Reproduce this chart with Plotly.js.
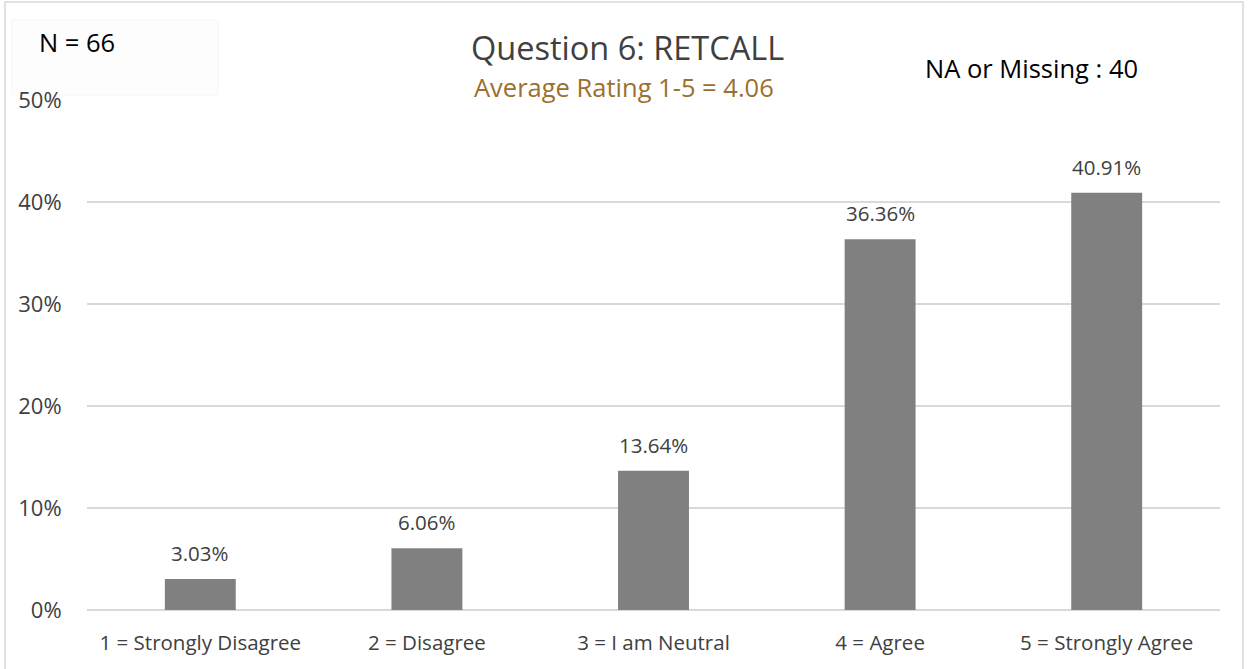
<!DOCTYPE html>
<html>
<head>
<meta charset="utf-8">
<script src="https://cdn.plot.ly/plotly-3.0.1.min.js"></script>
<style>
  html, body { margin: 0; padding: 0; background: #ffffff; }
  #chart { width: 1249px; height: 669px; }
</style>
</head>
<body>
<div id="chart"></div>
<script>
// Response categories and share of respondents (fraction of N)
const categories = [
  "1 = Strongly Disagree",
  "2 = Disagree",
  "3 = I am Neutral",
  "4 = Agree",
  "5 = Strongly Agree"
];
const shares = [0.0303, 0.0606, 0.1364, 0.3636, 0.4091];
const shareLabels = ["3.03%", "6.06%", "13.64%", "36.36%", "40.91%"];

const chartTitle = "Question 6: RETCALL";
const subtitle = "Average Rating 1-5 = 4.06";
const countNote = "N = 66";
const missingNote = "NA or Missing : 40";

const FONT = "Open Sans, Noto Sans, Liberation Sans, sans-serif";

const bars = {
  type: "bar",
  x: categories,
  y: shares,
  marker: { color: "#808080" },
  hoverinfo: "x+y"
};

// Value labels above each bar
const valueNotes = categories.map((c, i) => ({
  x: c, y: shares[i], xref: "x", yref: "y",
  text: shareLabels[i], showarrow: false,
  yanchor: "bottom", yshift: 10,
  font: { family: FONT, size: 20.5, color: "#404040" }
}));

const layout = {
  width: 1249,
  height: 669,
  margin: { l: 87, r: 29, t: 100, b: 59 },
  paper_bgcolor: "#ffffff",
  plot_bgcolor: "#ffffff",
  showlegend: false,
  bargap: 0.687,
  font: { family: FONT },
  xaxis: {
    type: "category",
    showgrid: false,
    zeroline: false,
    showline: false,
    ticks: "outside",
    ticklen: 14,
    tickcolor: "rgba(0,0,0,0)",
    tickfont: { family: FONT, size: 20.5, color: "#404040" },
    fixedrange: true
  },
  yaxis: {
    range: [0, 0.5],
    tickvals: [0, 0.1, 0.2, 0.3, 0.4, 0.5],
    ticktext: ["0%", "10%", "20%", "30%", "40%", "50%"],
    showgrid: true,
    gridcolor: "#d9d9d9",
    gridwidth: 1.5,
    zeroline: true,
    zerolinecolor: "#d9d9d9",
    zerolinewidth: 1.5,
    showline: false,
    ticks: "outside",
    ticklen: 20,
    tickcolor: "rgba(0,0,0,0)",
    tickfont: { family: FONT, size: 22, color: "#404040" },
    fixedrange: true
  },
  shapes: [
    // outer frame
    { type: "rect", xref: "paper", yref: "paper",
      xsizemode: "pixel", ysizemode: "pixel", xanchor: 0, yanchor: 0,
      x0: -82, x1: 1156, y0: -70, y1: 608,
      line: { color: "#d9d9d9", width: 1.5 }, fillcolor: "rgba(0,0,0,0)", layer: "below" },
    // soft box behind the count note
    { type: "rect", xref: "paper", yref: "paper",
      xsizemode: "pixel", ysizemode: "pixel", xanchor: 0, yanchor: 0,
      x0: -75, x1: 131, y0: 515, y1: 590,
      line: { color: "#f6f6f6", width: 1 }, fillcolor: "#fdfdfd", layer: "below" }
  ],
  annotations: [
    { xref: "paper", yref: "paper", x: 0.477, y: 1, yshift: 53,
      text: chartTitle, showarrow: false, xanchor: "center", yanchor: "middle",
      font: { family: FONT, size: 32.5, color: "#404040" } },
    { xref: "paper", yref: "paper", x: 0.474, y: 1, yshift: 13,
      text: subtitle, showarrow: false, xanchor: "center", yanchor: "middle",
      font: { family: FONT, size: 25.5, color: "#9c6f2e" } },
    { xref: "paper", yref: "paper", x: 0, xshift: -50, y: 1, yshift: 58,
      text: countNote, showarrow: false, xanchor: "left", yanchor: "middle",
      font: { family: FONT, size: 25.5, color: "#000000" } },
    { xref: "paper", yref: "paper", x: 0.7396, xshift: -2, y: 1, yshift: 32,
      text: missingNote, showarrow: false, xanchor: "left", yanchor: "middle",
      font: { family: FONT, size: 25.5, color: "#000000" } }
  ].concat(valueNotes)
};

Plotly.newPlot("chart", [bars], layout, { displayModeBar: false, staticPlot: true });
</script>
</body>
</html>
